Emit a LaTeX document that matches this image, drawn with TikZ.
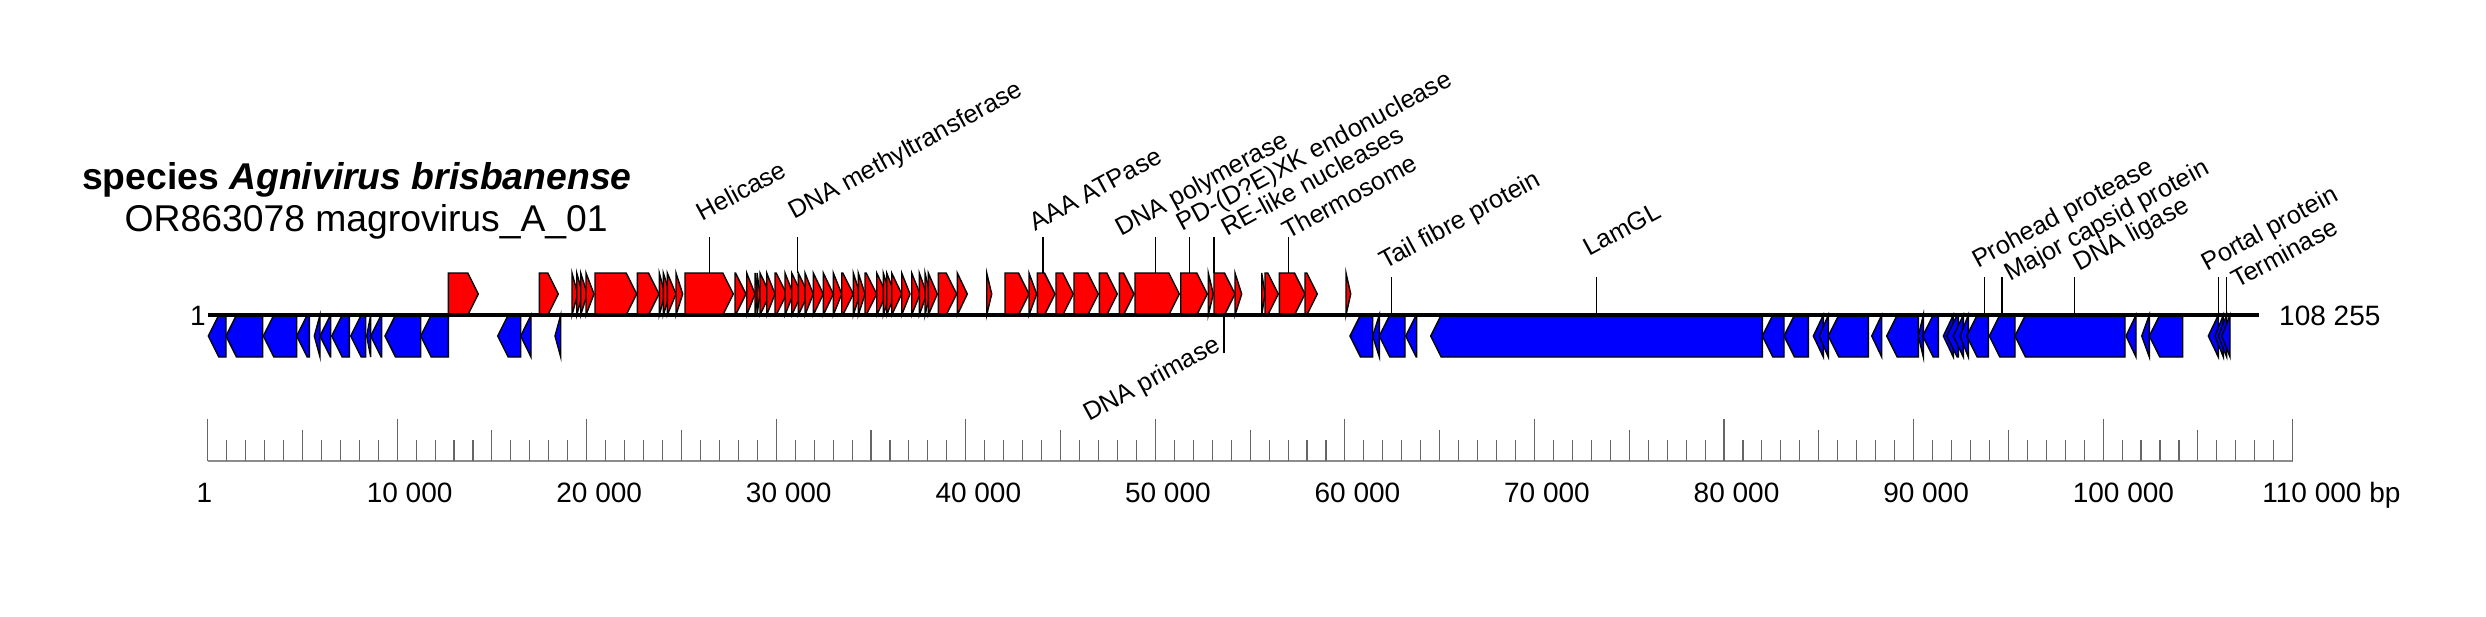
\documentclass[tikz,border=0pt]{standalone}
\usepackage{fontspec}
\setmainfont{Liberation Sans}
\definecolor{genered}{RGB}{255,0,0}
\definecolor{geneblue}{RGB}{0,0,255}
\tikzset{
  fwdgene/.style={fill=genered, draw=black, line width=1.4pt},
  revgene/.style={fill=geneblue, draw=black, line width=1.4pt},
  genome/.style={line width=3.3pt, black},
  lblline/.style={line width=1.3pt, black},
  lbl/.style={inner sep=0pt, anchor=base west, rotate=28.5, font=\fontsize{25.3}{29}\selectfont},
  ticktxt/.style={inner sep=0pt, anchor=base west, font=\fontsize{28}{32}\selectfont},
  endtxt/.style={inner sep=0pt, font=\fontsize{28}{32}\selectfont},
  tickline/.style={line width=1.1pt, black!60},
  scaleline/.style={line width=1.4pt, black!45},
}
\begin{document}
\begin{tikzpicture}[x=1pt, y=-1pt]
\fill[white] (0,0) rectangle (2486,616);
\useasboundingbox (0,0) rectangle (2486,616);

% title
\node[inner sep=0pt, anchor=base west, font=\fontsize{37.3}{42}\selectfont\bfseries] (title) at (82,189) {species \textit{Agnivirus brisbanense}};
\node[inner sep=0pt, anchor=base west, font=\fontsize{37.3}{42}\selectfont] (subtitle) at (124.5,231.5) {OR863078 magrovirus\_A\_01};

% forward genes
\foreach \s/\e in {448.3/478.3, 539.3/558.3, 572/577.7, 576.7/582.7, 580.7/587.3, 586/594, 595/636.7, 637.3/659, 659.3/665, 663.3/670, 667.3/676, 676/682.7, 685/733.3, 735/746, 746.7/755, 755/758, 757/760, 760/770, 766.7/775, 775/786.7, 785/793.3, 791.7/801.7, 798.3/808.3, 805/813.3, 813.3/823.3, 823.3/833.3, 833.3/841.7, 841.7/853.3, 853.3/860, 858.3/865, 865/876.7, 876.7/886.7, 883.3/890, 886.7/895, 891.7/901.7, 901.7/910, 911.7/920, 919.3/926.7, 925/930, 928.3/937.3, 938.3/956.7, 957.3/967.3, 986.7/991.7, 1005/1029, 1029/1036.7, 1037.3/1055, 1056/1073.3, 1074/1098.3, 1099.3/1117.3, 1119.3/1134, 1135/1179.3, 1180.7/1207.3, 1208.3/1213.3, 1214/1235, 1235/1241.7, 1261.7/1265, 1265/1278.3, 1279.3/1305, 1305/1317.3, 1346/1350.7}{
  \pgfmathsetmacro\h{min(10.5,\e-\s)}
  \filldraw[fwdgene] (\s,315) -- (\s,273) -- ({\e-\h},273) -- (\e,294) -- ({\e-\h},315) -- cycle;
}

% reverse genes
\foreach \s/\e in {208.3/226, 226/262.7, 263.3/296.7, 296.7/309.3, 314.3/320, 320/330.7, 331.7/349.3, 350.7/365.7, 366.7/370.7, 370.7/381.7, 385/420.7, 420.7/448.3, 497.7/520.7, 520.7/531, 555/560.7, 1350/1372.7, 1372.7/1379.3, 1379.3/1405, 1405.7/1416.7, 1430.7/1762.3, 1762.3/1784, 1784/1808.3, 1813.3/1823.3, 1819.3/1828.3, 1828.3/1868.3, 1871.7/1881.7, 1886.7/1918.3, 1918.3/1923.3, 1922.7/1938.3, 1943.3/1953.3, 1946.7/1958.3, 1953.3/1963.3, 1960/1968.3, 1966.7/1988.3, 1989.3/2015, 2015/2125, 2126/2136, 2141.7/2149.3, 2149.3/2182.7, 2208.3/2218.3, 2215/2223.3, 2218.3/2226.7, 2221.7/2230}{
  \pgfmathsetmacro\h{min(10.5,\e-\s)}
  \filldraw[revgene] (\e,315) -- (\e,357) -- ({\s+\h},357) -- (\s,336) -- ({\s+\h},315) -- cycle;
}

% genome line
\coordinate (gstart) at (208,315);
\coordinate (gend) at (2258.5,315);
\draw[genome] (gstart) -- (gend);
\node[endtxt, anchor=base east] (startlbl) at (206,325) {1};
\node[endtxt, anchor=base west] (endlbl) at (2279,325) {108 255};

% gene labels
\foreach \x/\ya/\yb/\tx/\ty/\txt [count=\k] in {
  709.8/273/237/702.7/221.7/Helicase,
  797.8/273/237/794.2/220/DNA methyltransferase,
  1042.9/273/237/1035.3/231.7/AAA ATPase,
  1155.5/273/237/1121.4/236.7/DNA polymerase,
  1189.3/273/237/1182.6/231.7/PD-(D?E)XK endonuclease,
  1214/273/237/1227.2/236.7/RE-like nucleases,
  1288.3/273/237/1288/240/Thermosome,
  1391.7/315/277/1385/270/Tail fibre protein,
  1596.8/315/277/1589.3/256.7/LamGL,
  1984.5/315/277/1977.8/268.3/Prohead protease,
  2002/315/277/2010.2/281.7/Major capsid protein,
  2074.2/315/277/2079.2/271.7/DNA ligase,
  2218.4/315/277/2207/271.7/Portal protein,
  2226.5/315/277/2237/289/Terminase}{
  \coordinate (la\k) at (\x,\ya);
  \coordinate (lb\k) at (\x,\yb);
  \draw[lblline] (la\k) -- (lb\k);
  \node[lbl] (lbl\k) at (\tx,\ty) {\txt};
}
\coordinate (pa) at (1224,317);
\coordinate (pb) at (1224,353);
\draw[lblline] (pa) -- (pb);
\node[lbl, anchor=base east] (primase) at (1222,350) {DNA primase};

% scale bar
\coordinate (s0) at (207.6,461);
\coordinate (s1) at (2292.6,461);
\draw[scaleline] (s0) -- (s1);
\foreach \i in {0,...,110}{
  \pgfmathsetmacro\xx{207.6+\i*18.955}
  \pgfmathsetmacro\tp{ifthenelse(mod(\i,10)==0,419,ifthenelse(mod(\i,5)==0,430,440))}
  \draw[tickline] (\xx,\tp) -- (\xx,461);
}
\node[endtxt, anchor=base] (sc0) at (204.5,502) {1};
\foreach \i/\t in {1/10 000, 2/20 000, 3/30 000, 4/40 000, 5/50 000, 6/60 000, 7/70 000, 8/80 000, 9/90 000, 10/100 000, 11/110 000 bp}{
  \pgfmathsetmacro\xx{207.6+\i*189.55-30.5}
  \node[ticktxt] (sc\i) at (\xx,502) {\t};
}
\end{tikzpicture}
\end{document}
